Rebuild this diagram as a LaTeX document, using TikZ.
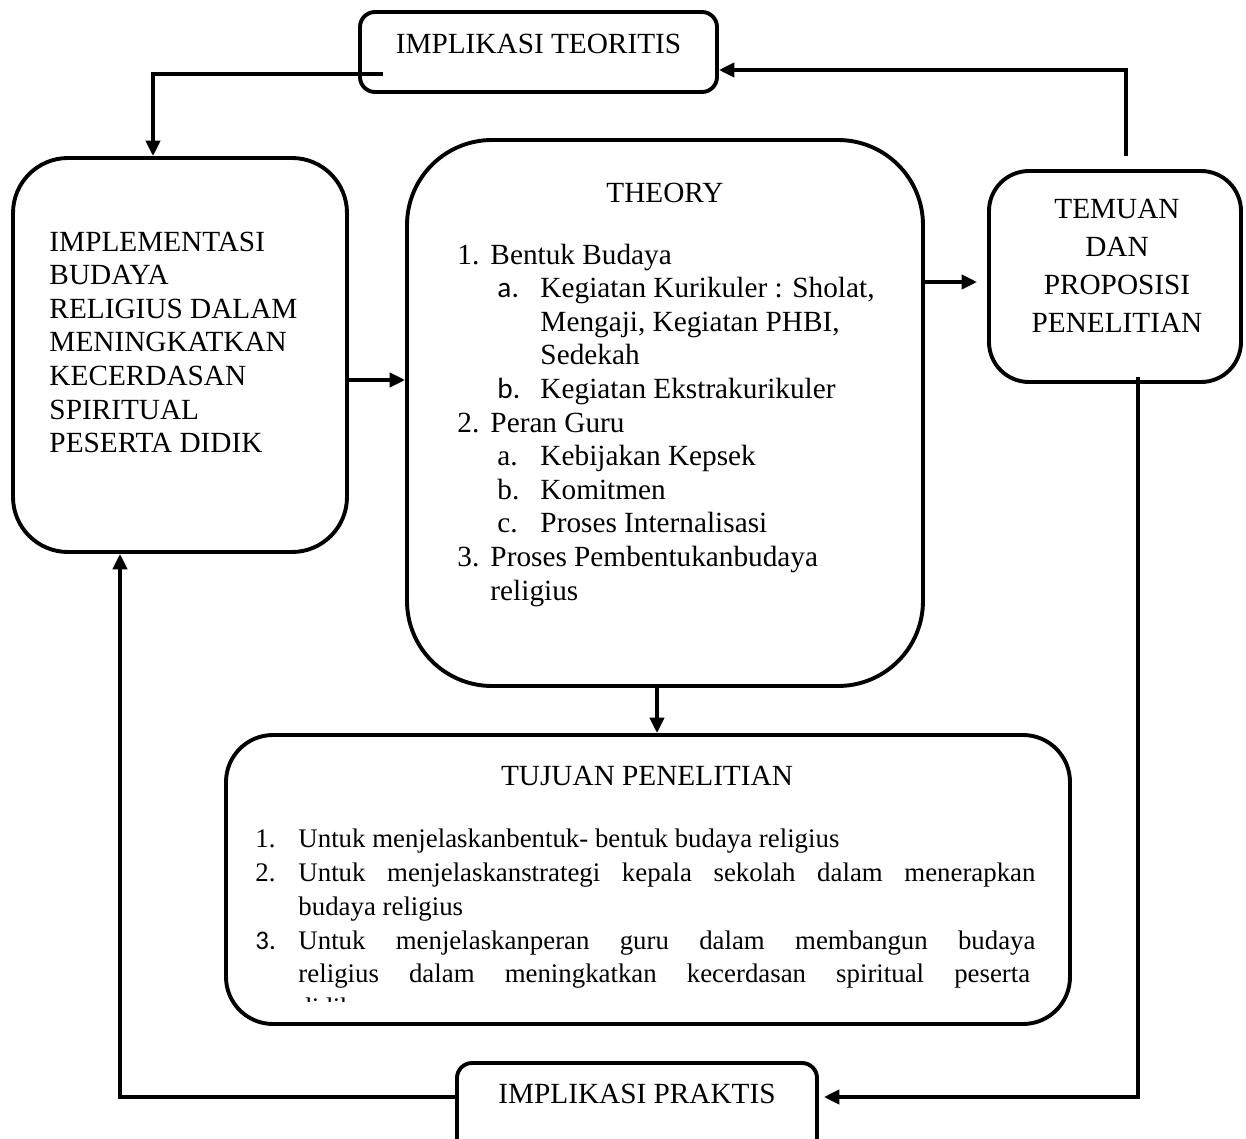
\documentclass[tikz,border=0pt]{standalone}
\usepackage{fontspec}
\setmainfont{Liberation Serif}
\newfontfamily\calfont{Carlito}
\usetikzlibrary{arrows.meta,calc}
\begin{document}
\begin{tikzpicture}[x=0.41pt,y=-0.41pt,
  box/.style={draw,line width=1.6pt,inner sep=0pt},
  arr/.style={line width=1.5pt,-{Triangle[length=6.3pt,width=5.8pt]}},
  txt/.style={anchor=base west,inner sep=0pt,font=\fontsize{12}{14}\selectfont},
  ctxt/.style={anchor=base,inner sep=0pt,font=\fontsize{12}{14}\selectfont},
  stxt/.style={anchor=base west,inner sep=0pt,font=\fontsize{11}{13}\selectfont},
]
\useasboundingbox[fill=white] (0,0) rectangle (1246,1139);

% boxes
\node[box,rounded corners=6.15pt,minimum width=146.37pt,minimum height=32.8pt] (impt) at (538.5,52) {};
\node[box,rounded corners=22.55pt,minimum width=136.94pt,minimum height=161.54pt] (left) at (180,355) {};
\node[box,rounded corners=34.85pt,minimum width=211.56pt,minimum height=223.86pt] (theory) at (665,413) {};
\node[box,rounded corners=16.4pt,minimum width=103.32pt,minimum height=86.51pt] (temuan) at (1115,276.5) {};
\node[box,rounded corners=19.27pt,minimum width=346.04pt,minimum height=118.49pt] (tujuan) at (648,879.5) {};
\begin{scope}
\clip (0,0) rectangle (1246,1139);
\node[box,rounded corners=6.15pt,minimum width=147.6pt,minimum height=43.87pt] (impp) at (637,1116.5) {};
\end{scope}

% texts
\node[ctxt] (imptT) at (538.5,53) {IMPLIKASI TEORITIS};
\node[ctxt] (imppT) at (637,1103) {IMPLIKASI PRAKTIS};

\node[txt] (l1) at (49,251) {IMPLEMENTASI};
\node[txt] (l2) at (49,284.6) {BUDAYA};
\node[txt] (l3) at (49,318.2) {RELIGIUS DALAM};
\node[txt] (l4) at (49,351.8) {MENINGKATKAN};
\node[txt] (l5) at (49,385.4) {KECERDASAN};
\node[txt] (l6) at (49,419) {SPIRITUAL};
\node[txt] (l7) at (49,452.6) {PESERTA DIDIK};

\node[ctxt] (thT) at (665,202) {THEORY};
\node[txt] (n1) at (457,264) {1.};
\node[txt] (t1) at (490,264) {Bentuk Budaya};
\node[txt] (n1a) at (497,297.6) {\calfont a.};
\node[txt] (t1a) at (540,297.6) {Kegiatan Kurikuler : Sholat,};
\node[txt] (t1a2) at (540,331.2) {Mengaji, Kegiatan PHBI,};
\node[txt] (t1a3) at (540,364.8) {Sedekah};
\node[txt] (n1b) at (497,398.4) {\calfont b.};
\node[txt] (t1b) at (540,398.4) {Kegiatan Ekstrakurikuler};
\node[txt] (n2) at (457,432) {2.};
\node[txt] (t2) at (490,432) {Peran Guru};
\node[txt] (n2a) at (497,465.6) {a.};
\node[txt] (t2a) at (540,465.6) {Kebijakan Kepsek};
\node[txt] (n2b) at (497,499.2) {b.};
\node[txt] (t2b) at (540,499.2) {Komitmen};
\node[txt] (n2c) at (497,532.8) {c.};
\node[txt] (t2c) at (540,532.8) {Proses Internalisasi};
\node[txt] (n3) at (457,566.4) {3.};
\node[txt] (t3) at (490,566.4) {Proses Pembentukanbudaya};
\node[txt] (t3b) at (490,600) {religius};

\node[ctxt] (te1) at (1117,218) {TEMUAN};
\node[ctxt] (te2) at (1117,256) {DAN};
\node[ctxt] (te3) at (1117,294) {PROPOSISI};
\node[ctxt] (te4) at (1117,332) {PENELITIAN};

\node[ctxt] (tjT) at (647,785) {TUJUAN PENELITIAN};
\node[stxt] (u1n) at (255,847) {1.};
\node[stxt] (u1) at (298,847) {Untuk menjelaskanbentuk- bentuk budaya religius};
\node[stxt] (u2n) at (255,881) {2.};
\node[stxt] (u2) at (298,881) {\makebox[302.17pt][s]{Untuk menjelaskanstrategi kepala sekolah dalam menerapkan}};
\node[stxt] (u2b) at (298,915) {budaya religius};
\node[stxt] (u3n) at (255,949) {\calfont 3.};
\node[stxt] (u3) at (298,949) {\makebox[302.17pt][s]{Untuk menjelaskanperan guru dalam membangun budaya}};
\node[stxt] (u3b) at (298,982) {\makebox[300pt][s]{religius dalam meningkatkan kecerdasan spiritual peserta}};
\begin{scope}
\clip (250,990) rectangle (600,1001);
\node[stxt] (u3c) at (298,1016) {didik};
\end{scope}

% connectors
\coordinate (p1) at ($(impt.west)+(25,22)$);
\draw[arr] (p1) -| ($(left.north)+(-27,0)$);
\coordinate (p2) at ($(temuan.north)+(11,-13)$);
\draw[arr] (p2) |- ($(impt.east)+(0,18)$);
\coordinate (p3) at ($(left.east)+(0,25)$);
\draw[arr] (p3) -- (p3 -| theory.west);
\coordinate (p4) at ($(theory.east)+(0,-131)$);
\coordinate (p4e) at ($(p4 -| temuan.west)+(-10,0)$);
\draw[arr] (p4) -- (p4e);
\coordinate (p5) at ($(theory.south)+(-8,0)$);
\draw[arr] (p5) -- (p5 |- tujuan.north);
\coordinate (p6) at ($(temuan.south)+(23,-7)$);
\coordinate (p6e) at ($(impp.east)+(5,-19.5)$);
\draw[arr] (p6) |- (p6e);
\coordinate (p7) at ($(impp.west)+(0,-19.5)$);
\draw[arr] (p7) -| ($(left.south)+(-60,0)$);
\end{tikzpicture}
\end{document}
